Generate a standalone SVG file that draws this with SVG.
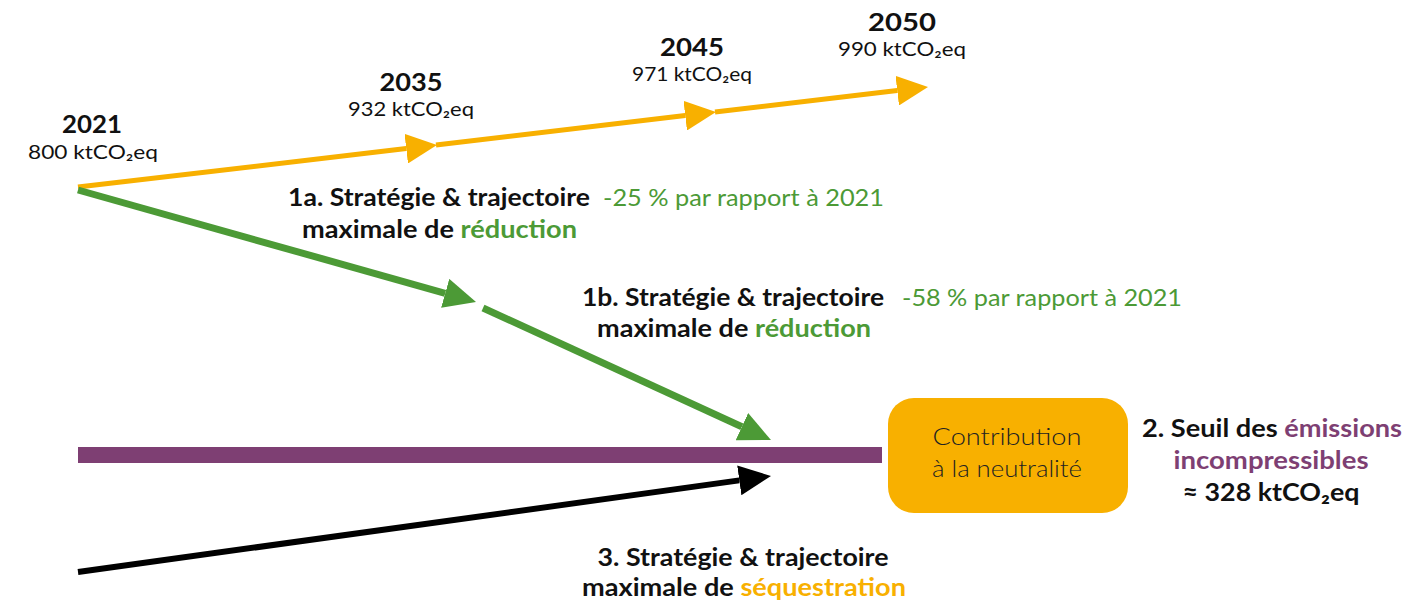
<svg xmlns="http://www.w3.org/2000/svg" width="1422" height="602" viewBox="0 0 1422 602">
<defs>
<style>
text{font-family:Lato,"Open Sans","Liberation Sans",sans-serif;fill:#111}
.yr{font-size:25px;font-weight:bold;text-anchor:middle}
.val{font-size:20px;text-anchor:middle}
.lab{font-size:24px;font-weight:bold;text-anchor:middle}
.pct{font-size:23px;fill:#4c9a36}
.g{fill:#4c9a36}
.p{fill:#7e3f73}
.y{fill:#f8b000}
.box{font-size:23px;font-weight:300;text-anchor:middle;fill:#222}
</style>
<marker id="hy" markerUnits="userSpaceOnUse" markerWidth="31" markerHeight="30" refX="0" refY="15" orient="auto"><path d="M0,0 L31,15 L0,30 z" fill="#f8b000"/></marker>
<marker id="hg" markerUnits="userSpaceOnUse" markerWidth="32" markerHeight="30" refX="0" refY="15" orient="auto"><path d="M0,0 L32,15 L0,30 z" fill="#4c9a36"/></marker>
<marker id="hk" markerUnits="userSpaceOnUse" markerWidth="32" markerHeight="30" refX="0" refY="15" orient="auto"><path d="M0,0 L32,15 L0,30 z" fill="#000"/></marker>
</defs>
<rect width="1422" height="602" fill="#fff"/>
<g id="connectors">
<line x1="78" y1="187" x2="406.2" y2="148.6" stroke="#f8b000" stroke-width="5" marker-end="url(#hy)"/>
<line x1="436" y1="145" x2="685.2" y2="115.6" stroke="#f8b000" stroke-width="5" marker-end="url(#hy)"/>
<line x1="715" y1="112" x2="897.2" y2="90.6" stroke="#f8b000" stroke-width="5" marker-end="url(#hy)"/>
<line x1="78" y1="190" x2="445.2" y2="293.3" stroke="#4c9a36" stroke-width="7" marker-end="url(#hg)"/>
<line x1="483" y1="308" x2="741.9" y2="426.7" stroke="#4c9a36" stroke-width="7" marker-end="url(#hg)"/>
<line x1="78" y1="572" x2="739.3" y2="480.4" stroke="#000" stroke-width="6" marker-end="url(#hk)"/>
<rect x="78" y="447" width="804" height="16" fill="#7e3f73"/>
</g>
<g id="y2021"><text class="yr" x="92" y="133" textLength="60" lengthAdjust="spacingAndGlyphs">2021</text><text class="val" x="93" y="159" textLength="130" lengthAdjust="spacingAndGlyphs">800 ktCO₂eq</text></g>
<g id="y2035"><text class="yr" x="411" y="91" textLength="63" lengthAdjust="spacingAndGlyphs">2035</text><text class="val" x="411" y="116" textLength="126" lengthAdjust="spacingAndGlyphs">932 ktCO₂eq</text></g>
<g id="y2045"><text class="yr" x="692" y="56" textLength="64" lengthAdjust="spacingAndGlyphs">2045</text><text class="val" x="692" y="81" textLength="120" lengthAdjust="spacingAndGlyphs">971 ktCO₂eq</text></g>
<g id="y2050"><text class="yr" x="902" y="31" textLength="68" lengthAdjust="spacingAndGlyphs">2050</text><text class="val" x="902" y="56" textLength="128" lengthAdjust="spacingAndGlyphs">990 ktCO₂eq</text></g>
<g id="s1a"><text class="lab" x="439" y="206" textLength="302" lengthAdjust="spacingAndGlyphs">1a. Stratégie &amp; trajectoire</text><text class="lab" x="439.5" y="238" textLength="275" lengthAdjust="spacingAndGlyphs">maximale de <tspan class="g">réduction</tspan></text><text class="pct" x="603" y="206" textLength="281" lengthAdjust="spacingAndGlyphs">-25 % par rapport à 2021</text></g>
<g id="s1b"><text class="lab" x="733" y="306" textLength="302" lengthAdjust="spacingAndGlyphs">1b. Stratégie &amp; trajectoire</text><text class="lab" x="734" y="337" textLength="274" lengthAdjust="spacingAndGlyphs">maximale de <tspan class="g">réduction</tspan></text><text class="pct" x="902" y="306" textLength="280" lengthAdjust="spacingAndGlyphs">-58 % par rapport à 2021</text></g>
<g id="neutral"><rect x="888" y="398" width="240" height="115" rx="26" fill="#f8b000"/><text class="box" x="1007" y="445" textLength="149" lengthAdjust="spacingAndGlyphs">Contribution</text><text class="box" x="1007" y="477" textLength="150" lengthAdjust="spacingAndGlyphs">à la neutralité</text></g>
<g id="s2"><text class="lab" x="1272" y="437" textLength="260" lengthAdjust="spacingAndGlyphs">2. Seuil des <tspan class="p">émissions</tspan></text><text class="lab p" x="1271" y="469" textLength="195" lengthAdjust="spacingAndGlyphs">incompressibles</text><text class="lab" x="1271" y="501" textLength="177" lengthAdjust="spacingAndGlyphs">≈ 328 ktCO₂eq</text></g>
<g id="s3"><text class="lab" x="743" y="566" textLength="291" lengthAdjust="spacingAndGlyphs">3. Stratégie &amp; trajectoire</text><text class="lab" x="744" y="596" textLength="324" lengthAdjust="spacingAndGlyphs">maximale de <tspan class="y">séquestration</tspan></text></g>
</svg>
